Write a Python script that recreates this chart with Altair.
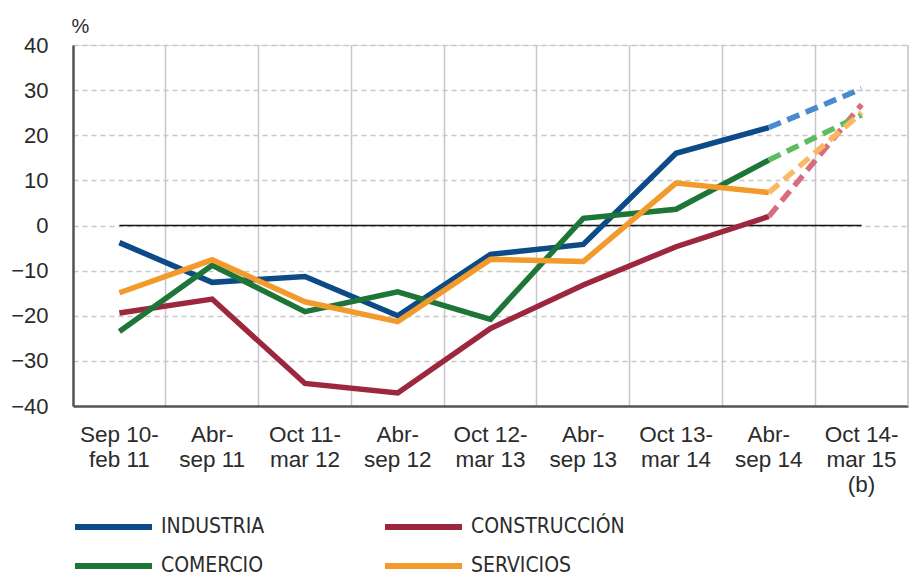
import altair as alt
import pandas as pd

categories = ["Sep 10-|feb 11", "Abr-|sep 11", "Oct 11-|mar 12", "Abr-|sep 12",
              "Oct 12-|mar 13", "Abr-|sep 13", "Oct 13-|mar 14", "Abr-|sep 14",
              "Oct 14-|mar 15|(b)"]

series = ["INDUSTRIA", "CONSTRUCCIÓN", "COMERCIO", "SERVICIOS"]
industria = [-3.8, -12.6, -11.3, -20.0, -6.4, -4.2, 16.0, 21.7, 30.3]
construccion = [-19.4, -16.3, -35.0, -37.1, -22.8, -13.2, -4.7, 2.0, 26.8]
comercio = [-23.5, -8.8, -19.1, -14.7, -20.8, 1.6, 3.6, 14.5, 24.5]
servicios = [-14.9, -7.6, -16.9, -21.3, -7.5, -8.0, 9.4, 7.3, 25.0]

colors = ["#0c4a88", "#9e2740", "#1d7638", "#f29a2c"]
light_colors = ["#4a8bd0", "#d96d80", "#5cbc5f", "#fbb862"]
draw_order = ["CONSTRUCCIÓN", "INDUSTRIA", "COMERCIO", "SERVICIOS"]

values = {"INDUSTRIA": industria, "CONSTRUCCIÓN": construccion,
          "COMERCIO": comercio, "SERVICIOS": servicios}

rows = []
for s in draw_order:
    for i, (c, v) in enumerate(zip(categories, values[s])):
        rows.append({"cat": c, "serie": s, "value": v, "idx": i})
df = pd.DataFrame(rows)
n = len(categories)
solid = df[df["idx"] <= n - 2]
dashed = df[df["idx"] >= n - 2]

FONT = "Liberation Sans, Arial, sans-serif"
NARROW = "Liberation Sans Narrow, DejaVu Sans Condensed, sans-serif"
W, H = 835, 361

xscale = alt.Scale(domain=categories, paddingInner=0, paddingOuter=0)

x_enc = alt.X("cat:N", scale=xscale,
              axis=alt.Axis(title=None, labelAngle=0, labelAlign="center",
                            labelExpr="split(datum.label, '|')",
                            labelFont=FONT, labelFontSize=22.5, labelColor="#2b2b2b",
                            labelLineHeight=25, labelPadding=17, labelBaseline="top",
                            grid=True, gridColor="#c6c6ce", gridWidth=1.5,
                            bandPosition=0, ticks=False, tickSize=0,
                            domainColor="#555555", domainWidth=2.5))
y_enc = alt.Y("value:Q",
              scale=alt.Scale(domain=[-40, 40], nice=False),
              axis=alt.Axis(title="%", titleAngle=0, titleAlign="left",
                            titleBaseline="bottom", titleX=-2, titleY=-9,
                            titleFont=FONT, titleFontSize=20, titleFontWeight="normal",
                            titleColor="#2b2b2b",
                            values=list(range(-40, 41, 10)),
                            labelFont=FONT, labelFontSize=22, labelColor="#2b2b2b",
                            labelPadding=25, ticks=False, tickSize=0,
                            grid=True, gridColor="#c8c8c8", gridDash=[5, 4],
                            gridWidth=1.5, domainColor="#555555", domainWidth=2.5))

solid_layer = alt.Chart(solid).mark_line(strokeWidth=5.5, strokeCap="butt",
                                         strokeJoin="miter").encode(
    x=x_enc, y=y_enc,
    color=alt.Color("serie:N",
                    scale=alt.Scale(domain=series, range=colors),
                    sort=series,
                    legend=alt.Legend(title=None, orient="none", legendX=-1, legendY=469,
                                      direction="horizontal", columns=2,
                                      symbolType="stroke", symbolStrokeWidth=6,
                                      symbolSize=5929, clipHeight=26,
                                      labelFont=NARROW,
                                      labelFontSize=21, labelColor="#2b2b2b",
                                      labelOffset=6, columnPadding=117,
                                      rowPadding=13, labelLimit=300)),
    detail="serie:N",
)

dashed_layer = alt.Chart(dashed).mark_line(strokeWidth=5.5, strokeDash=[13, 7],
                                           strokeCap="butt").encode(
    x=alt.X("cat:N", scale=xscale),
    y=alt.Y("value:Q"),
    color=alt.Color("serie:N", scale=alt.Scale(domain=series, range=light_colors),
                    legend=None),
    detail="serie:N",
)

zero_df = pd.DataFrame({"c0": [categories[0]], "c1": [categories[-1]], "v": [0]})
zero_rule = alt.Chart(zero_df).mark_rule(color="#111111", strokeWidth=1.5).encode(
    x=alt.X("c0:N", scale=xscale), x2="c1:N", y=alt.Y("v:Q"))

right_edge = alt.Chart(zero_df).mark_rule(color="#c6c6ce", strokeWidth=1.5).encode(
    x=alt.value(W), y=alt.value(0), y2=alt.value(H))

chart = alt.layer(right_edge, zero_rule, solid_layer, dashed_layer).resolve_scale(
    color="independent"
).properties(
    width=W, height=H,
    autosize=alt.AutoSizeParams(type="none"),
    padding={"left": 65, "top": 37, "right": 6, "bottom": 170},
).configure_view(stroke=None).configure(background="white")

chart.save("out.html", embed_options={"renderer": "svg", "actions": False})
